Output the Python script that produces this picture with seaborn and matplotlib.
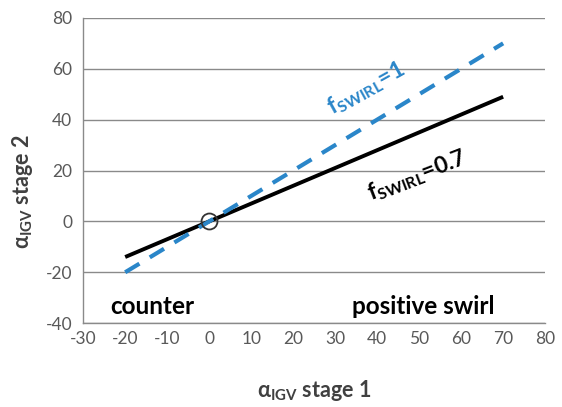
import matplotlib
matplotlib.use("Agg")
import matplotlib.pyplot as plt
import seaborn as sns
import pandas as pd

# data
x_igv1 = [-20, 70]
y_swirl07 = [-14, 49]
y_swirl1 = [-20, 70]
origin_x = [0]
origin_y = [0]
x_ticks = [-30, -20, -10, 0, 10, 20, 30, 40, 50, 60, 70, 80]
y_ticks = [-40, -20, 0, 20, 40, 60, 80]

sns.set_theme(style="white")
plt.rcParams['font.family'] = ['Lato', 'DejaVu Sans']
plt.rcParams['axes.unicode_minus'] = False
plt.rcParams['mathtext.fontset'] = 'custom'
plt.rcParams['mathtext.rm'] = 'Lato:bold'
plt.rcParams['mathtext.it'] = 'Lato:bold'
plt.rcParams['mathtext.bf'] = 'Lato:bold'
plt.rcParams['mathtext.default'] = 'bf'

fig = plt.figure(figsize=(5.62, 4.07), dpi=100)
ax = fig.add_axes([0.148, 0.206, 0.822, 0.750])

df07 = pd.DataFrame({"x": x_igv1, "y": y_swirl07})
df1 = pd.DataFrame({"x": x_igv1, "y": y_swirl1})

sns.lineplot(data=df07, x="x", y="y", ax=ax, color="black", linewidth=2.8,
             solid_capstyle="butt", zorder=3)
sns.lineplot(data=df1, x="x", y="y", ax=ax, color="#2a86c9", linewidth=3.0,
             linestyle=(0, (4.0, 2.9)), zorder=4)
ax.plot(origin_x, origin_y, marker="o", markersize=11.5, markerfacecolor="none",
        markeredgecolor="#333333", markeredgewidth=1.3, linestyle="none", zorder=5)

ax.set_xlim(-30, 80)
ax.set_ylim(-40, 80)
ax.set_xticks(x_ticks)
ax.set_yticks(y_ticks)
ax.yaxis.grid(True, color="#8a8a8a", linewidth=1.0)
ax.xaxis.grid(False)
for s in ["top", "right"]:
    ax.spines[s].set_visible(False)
for s in ["left", "bottom"]:
    ax.spines[s].set_color("#8a8a8a")
    ax.spines[s].set_linewidth(1.0)
ax.tick_params(axis="x", direction="in", length=4, color="#8a8a8a", width=1.0,
               labelsize=12.5, labelcolor="#595959", pad=6)
ax.tick_params(axis="y", direction="out", length=4, color="#8a8a8a", width=1.0,
               labelsize=12.5, labelcolor="#595959", pad=4)
ax.set_axisbelow(True)

ax.set_xlabel(r"$\alpha_{IGV}$ stage 1", fontsize=15.5, fontweight="bold",
              color="#404040")
ax.set_ylabel(r"$\alpha_{IGV}$ stage 2", fontsize=15.5, fontweight="bold",
              color="#404040")
ax.xaxis.set_label_coords(0.5, -0.18)
ax.yaxis.set_label_coords(-0.105, 0.43)

ax.text(37.5, 52, r"f$_{SWIRL}$=1", color="#2a86c9", fontsize=16.5,
        fontweight="bold", rotation=29, ha="center", va="center")
ax.text(49.5, 18, r"f$_{SWIRL}$=0.7", color="black", fontsize=16.5,
        fontweight="bold", rotation=21, ha="center", va="center")
ax.text(-13.6, -33.5, "counter", color="black", fontsize=17.5, fontweight="bold",
        ha="center", va="center")
ax.text(51, -33.5, "positive swirl", color="black", fontsize=17.5, fontweight="bold",
        ha="center", va="center")

fig.savefig("out.png", dpi=100)
